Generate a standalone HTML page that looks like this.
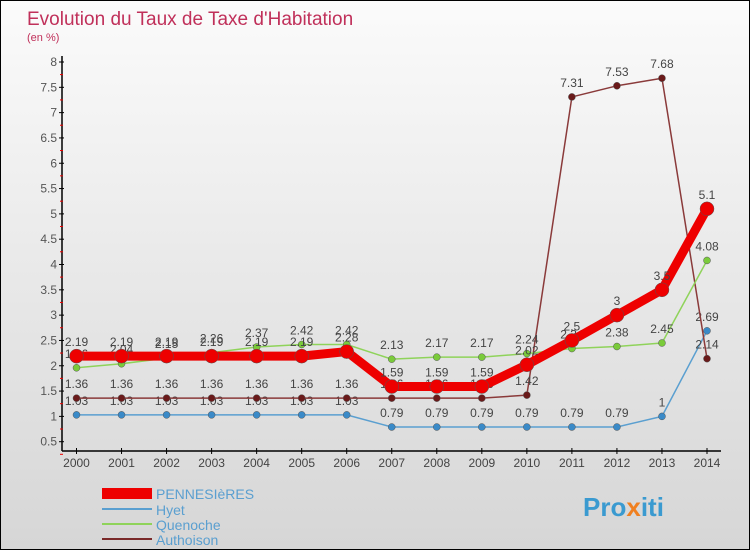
<!DOCTYPE html>
<html><head><meta charset="utf-8"><style>
body{margin:0}
#c{width:750px;height:550px;position:relative;box-sizing:border-box;border:1px solid #000;background:linear-gradient(#fbfbfb,#d6d6d6);font-family:"Liberation Sans",sans-serif;overflow:hidden}
svg text{font-family:"Liberation Sans",sans-serif}
</style></head><body>
<div id="c">
<svg id="s" width="750" height="550">
<text x="26" y="24" font-size="19" fill="#c0305a">Evolution du Taux de Taxe d'Habitation</text>
<text x="26" y="40" font-size="11" fill="#c0305a">(en %)</text>
<g>
<rect x="101" y="487" width="50" height="11" fill="#e00"/>
<text x="155" y="498" font-size="14" fill="#5a9fd0">PENNESIèRES</text>
<line x1="101" y1="508" x2="151" y2="508" stroke="#5a9fd0" stroke-width="2"/>
<text x="155" y="514" font-size="14" fill="#5a9fd0">Hyet</text>
<line x1="101" y1="523" x2="151" y2="523" stroke="#8fd35a" stroke-width="2"/>
<text x="155" y="529" font-size="14" fill="#5a9fd0">Quenoche</text>
<line x1="101" y1="538" x2="151" y2="538" stroke="#7a2a2a" stroke-width="2"/>
<text x="155" y="544" font-size="14" fill="#5a9fd0">Authoison</text>
</g>
<text x="582" y="515" font-size="26" font-weight="bold" fill="#3a9ad0">Pro<tspan fill="#f08020">x</tspan>iti</text>
</svg>
</div>
<script>
const years=[2000,2001,2002,2003,2004,2005,2006,2007,2008,2009,2010,2011,2012,2013,2014];
const yTicks=[0.5,1,1.5,2,2.5,3,3.5,4,4.5,5,5.5,6,6.5,7,7.5,8];
const pennesieres=[2.19,2.19,2.19,2.19,2.19,2.19,2.28,1.59,1.59,1.59,2.02,2.5,3,3.5,5.1];
const hyet=[1.03,1.03,1.03,1.03,1.03,1.03,1.03,0.79,0.79,0.79,0.79,0.79,0.79,1,2.69];
const quenoche=[1.96,2.04,2.15,2.26,2.37,2.42,2.42,2.13,2.17,2.17,2.24,2.34,2.38,2.45,4.08];
const authoison=[1.36,1.36,1.36,1.36,1.36,1.36,1.36,1.36,1.36,1.36,1.42,7.31,7.53,7.68,2.14];
const NS="http://www.w3.org/2000/svg",s=document.getElementById('s');
const X=i=>75.5+i*(706-75.5)/(years.length-1);
const Y=v=>440.7-(v-0.5)*(440.7-61)/7.5;
function mk(t,a,p){const e=document.createElementNS(NS,t);for(const k in a)e.setAttribute(k,a[k]);(p||s).appendChild(e);return e;}
const ax=mk('g',{});


mk('line',{x1:61,y1:55,x2:61,y2:450,stroke:'#000','stroke-width':1.5},ax);
mk('line',{x1:61,y1:450,x2:720,y2:450,stroke:'#000','stroke-width':1.5},ax);
yTicks.forEach(v=>{const y=Y(v);
mk('line',{x1:58,y1:y,x2:63,y2:y,stroke:'#000'},ax);
mk('line',{x1:59,y1:y+12.6,x2:62,y2:y+12.6,stroke:'#e00'},ax);
const t=mk('text',{x:56,y:y+4,'font-size':12,fill:'#555','text-anchor':'end'},ax);t.textContent=v;

});
years.forEach((yr,i)=>{const x=X(i);
mk('line',{x1:x,y1:447,x2:x,y2:453,stroke:'#000'},ax);
const t=mk('text',{x:x,y:466,'font-size':12,fill:'#444','text-anchor':'middle'},ax);t.textContent=yr;

});
function series(name,data,color,w,r,dot){
const g=mk('g',{});


mk('polyline',{points:data.map((v,i)=>X(i)+','+Y(v)).join(' '),fill:'none',stroke:color,'stroke-width':w,'stroke-linejoin':'round'},g);
data.forEach((v,i)=>{const c=mk('circle',{cx:X(i),cy:Y(v),r:r,fill:dot,stroke:'#555','stroke-width':0.5},g);


const t=mk('text',{x:X(i),y:Y(v)-10,'font-size':12,fill:'#444','text-anchor':'middle'},g);t.textContent=v;

});}
series('hyet',hyet,'#5a9fd0',1.5,3.5,'#3a8ac8');
series('authoison',authoison,'#8a3a3a',1.5,3.5,'#6a1a1a');
series('quenoche',quenoche,'#8fd35a',1.5,3.5,'#7acb3a');
series('pennesieres',pennesieres,'#e00',9,7,'#e00');
</script>
</body></html>
